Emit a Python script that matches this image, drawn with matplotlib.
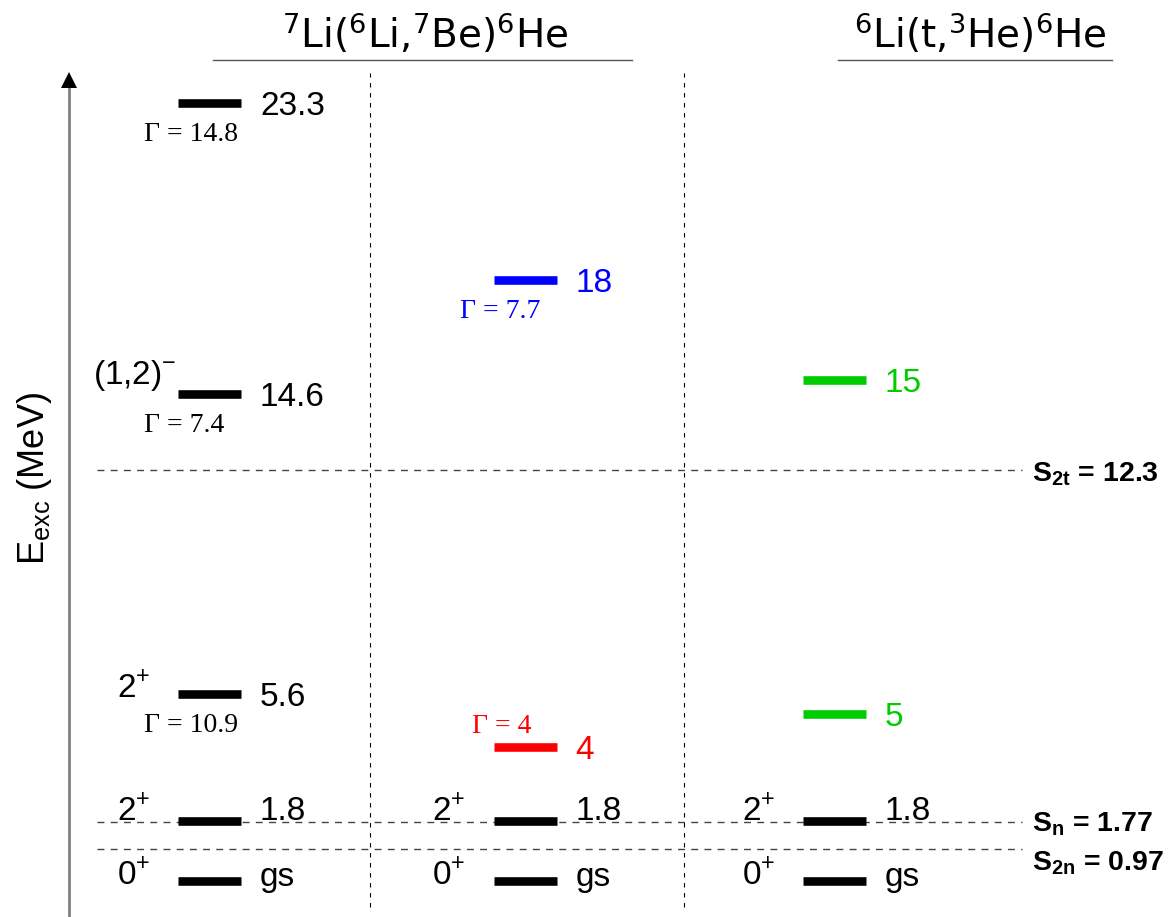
import matplotlib
matplotlib.use("Agg")
import matplotlib.pyplot as plt
from matplotlib.transforms import blended_transform_factory

# ---------------------------------------------------------------------------
# Level data (excitation energies in MeV)
# ---------------------------------------------------------------------------
# 7Li(6Li,7Be)6He column
li7_energy = [0.0, 1.8, 5.6, 14.6, 23.3]
li7_value_text = ["gs", "1.8", "5.6", "14.6", "23.3"]
li7_jpi = ["0+", "2+", "2+", "(1,2)-", ""]
li7_width = [None, None, 10.9, 7.4, 14.8]
li7_color = ["black", "black", "black", "black", "black"]

# second 7Li(6Li,7Be)6He column (new states)
be7_energy = [0.0, 1.8, 4.0, 18.0]
be7_value_text = ["gs", "1.8", "4", "18"]
be7_jpi = ["0+", "2+", "", ""]
be7_width = [None, None, 4, 7.7]
be7_color = ["black", "black", "#ff0000", "#0000ff"]

# 6Li(t,3He)6He column
he3_energy = [0.0, 1.8, 5.0, 15.0]
he3_value_text = ["gs", "1.8", "5", "15"]
he3_jpi = ["0+", "2+", "", ""]
he3_width = [None, None, None, None]
he3_color = ["black", "black", "#00cc00", "#00cc00"]

# separation thresholds
threshold_energy = [12.3, 1.77, 0.97]
threshold_index = ["2t", "n", "2n"]

reaction_titles = [r"$^{\mathdefault{7}}$Li($^{\mathdefault{6}}$Li,$^{\mathdefault{7}}$Be)$^{\mathdefault{6}}$He",
                   r"$^{\mathdefault{6}}$Li(t,$^{\mathdefault{3}}$He)$^{\mathdefault{6}}$He"]

# ---------------------------------------------------------------------------
# Figure / layout (x in layout pixels, y in MeV)
# ---------------------------------------------------------------------------
W, H = 1171, 917
fig = plt.figure(figsize=(W / 100, H / 100), dpi=100)
ax = fig.add_axes([0, 0, 1, 1])
ax.set_xlim(0, W)
ax.set_ylim(-1.078, 26.39)
ax.axis("off")

SANS = "Liberation Sans"
SERIF = "Liberation Serif"
xa = blended_transform_factory(ax.transData, ax.transAxes)
ya = blended_transform_factory(ax.transAxes, ax.transData)


def fy(px):
    """axes fraction for a distance measured from the top edge"""
    return 1 - px / H


def sup(label):
    if label.endswith("+") or label.endswith("-"):
        return label[:-1] + r"$^{\mathdefault{" + label[-1] + "}}$"
    return label


columns = [
    dict(center=209.5, E=li7_energy, val=li7_value_text, jpi=li7_jpi, gam=li7_width,
         col=li7_color, gpos=["below"] * 5),
    dict(center=525, E=be7_energy, val=be7_value_text, jpi=be7_jpi, gam=be7_width,
         col=be7_color, gpos=["below", "below", "above", "below"]),
    dict(center=834, E=he3_energy, val=he3_value_text, jpi=he3_jpi, gam=he3_width,
         col=he3_color, gpos=["below"] * 4),
]
half = 31.5

for c in columns:
    left, right = c["center"] - half, c["center"] + half
    for E, val, jpi, gam, col, gpos in zip(c["E"], c["val"], c["jpi"], c["gam"],
                                           c["col"], c["gpos"]):
        ax.hlines(E, left, right, colors=col, linewidth=6.2, capstyle="butt", zorder=3)
        on_line = any(abs(E - t) < 0.1 for t in threshold_energy)
        # energy value to the right
        if val == "gs":
            dy = -5
        elif on_line:
            dy = 1
        else:
            dy = -12
        ax.annotate(val, (right, E), xytext=(19, dy), textcoords="offset pixels",
                    ha="left", va="baseline", fontsize=24, color=col, family=SANS)
        # spin/parity on the left
        if jpi:
            if jpi.startswith("("):
                ax.annotate(sup(jpi), (left, E), xytext=(-85, 10), textcoords="offset pixels",
                            ha="left", va="baseline", fontsize=24, color=col, family=SANS)
            else:
                ax.annotate(sup(jpi), (left, E), xytext=(-61, 1 if on_line else -3),
                            textcoords="offset pixels", ha="left", va="baseline",
                            fontsize=24, color=col, family=SANS)
        # resonance width
        if gam is not None:
            g = f"{gam:g}"
            if gpos == "above":
                off = (-21, 14)
            else:
                off = (-34, -38)
            ax.annotate("\u0393 = " + g, (left, E), xytext=off, textcoords="offset pixels",
                        ha="left", va="baseline", fontsize=20, color=col, family=SERIF)

# thresholds
thr_dy = [-11, -9, -22]
for E, idx, dy in zip(threshold_energy, threshold_index, thr_dy):
    ax.hlines(E, 97, 1022, colors="#444444", linewidth=1.0, linestyles=(0, (5, 4.5)),
              zorder=1)
    ax.annotate(r"S$_{\mathdefault{" + idx + "}}$ = " + f"{E:g}", (1032, E),
                xytext=(0, dy), textcoords="offset pixels", ha="left", va="baseline",
                fontsize=20.5, fontweight="bold", family=SANS, color="black")

# column separators
for x in (370, 684):
    ax.plot([x, x], [fy(907), fy(73)], transform=xa, color="black", linewidth=0.8,
            linestyle=(0, (4, 5)), zorder=1)

# reaction titles with underline
title_x = [425, 980]
rule_span = [(213, 632), (838, 1112)]
for t, x, (a, b) in zip(reaction_titles, title_x, rule_span):
    ax.text(x, fy(48), t, transform=xa, ha="center", va="baseline", fontsize=28,
            family="DejaVu Sans", color="black")
    ax.plot([a, b], [fy(59.5), fy(59.5)], transform=xa, color="#555555", linewidth=1.0)

# energy axis arrow
ax.plot([68.5, 68.5], [fy(917), fy(84)], transform=xa, color="#808080", linewidth=2.0,
        solid_capstyle="butt")
ax.plot([68.5], [fy(80)], transform=xa, marker="^", markersize=12, color="black",
        markeredgewidth=0)
ax.text(35 / W, fy(478), r"E$_{\mathdefault{exc}}$ (MeV)", transform=ax.transAxes,
        rotation=90, ha="center", va="center", fontsize=26, family=SANS)

fig.savefig("out.png", dpi=100)
